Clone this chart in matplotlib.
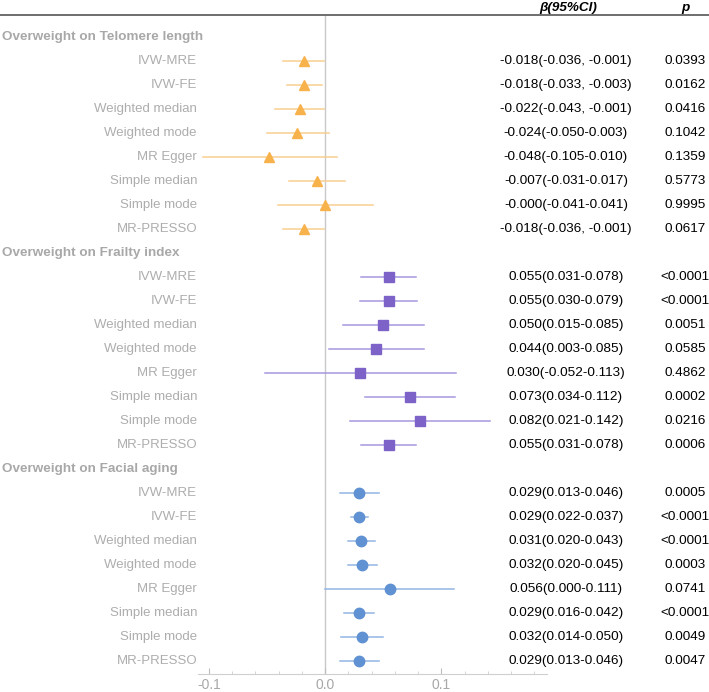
import matplotlib.pyplot as plt
from matplotlib.lines import Line2D

plt.rcParams['font.family'] = ['Liberation Sans', 'DejaVu Sans']

groups = ['Overweight on Telomere length', 'Overweight on Frailty index', 'Overweight on Facial aging']
methods = ['IVW-MRE', 'IVW-FE', 'Weighted median', 'Weighted mode',
           'MR Egger', 'Simple median', 'Simple mode', 'MR-PRESSO']

beta = [
    [-0.018, -0.018, -0.022, -0.024, -0.048, -0.007, -0.000, -0.018],
    [0.055, 0.055, 0.050, 0.044, 0.030, 0.073, 0.082, 0.055],
    [0.029, 0.029, 0.031, 0.032, 0.056, 0.029, 0.032, 0.029],
]
lower = [
    [-0.036, -0.033, -0.043, -0.050, -0.105, -0.031, -0.041, -0.036],
    [0.031, 0.030, 0.015, 0.003, -0.052, 0.034, 0.021, 0.031],
    [0.013, 0.022, 0.020, 0.020, 0.000, 0.016, 0.014, 0.013],
]
upper = [
    [-0.001, -0.003, -0.001, 0.003, 0.010, 0.017, 0.041, -0.001],
    [0.078, 0.079, 0.085, 0.085, 0.113, 0.112, 0.142, 0.078],
    [0.046, 0.037, 0.043, 0.045, 0.111, 0.042, 0.050, 0.046],
]
ci_text = [
    ['-0.018(-0.036, -0.001)', '-0.018(-0.033, -0.003)', '-0.022(-0.043, -0.001)',
     '-0.024(-0.050-0.003)', '-0.048(-0.105-0.010)', '-0.007(-0.031-0.017)',
     '-0.000(-0.041-0.041)', '-0.018(-0.036, -0.001)'],
    ['0.055(0.031-0.078)', '0.055(0.030-0.079)', '0.050(0.015-0.085)',
     '0.044(0.003-0.085)', '0.030(-0.052-0.113)', '0.073(0.034-0.112)',
     '0.082(0.021-0.142)', '0.055(0.031-0.078)'],
    ['0.029(0.013-0.046)', '0.029(0.022-0.037)', '0.031(0.020-0.043)',
     '0.032(0.020-0.045)', '0.056(0.000-0.111)', '0.029(0.016-0.042)',
     '0.032(0.014-0.050)', '0.029(0.013-0.046)'],
]
p_text = [
    ['0.0393', '0.0162', '0.0416', '0.1042', '0.1359', '0.5773', '0.9995', '0.0617'],
    ['<0.0001', '<0.0001', '0.0051', '0.0585', '0.4862', '0.0002', '0.0216', '0.0006'],
    ['0.0005', '<0.0001', '<0.0001', '0.0003', '0.0741', '<0.0001', '0.0049', '0.0047'],
]

markers = ['^', 's', 'o']
mcolors = ['#F8B24C', '#7D62C8', '#5F91D3']
lcolors = ['#F9CF8E', '#A797DE', '#92B5E2']

W, H = 709, 692
fig = plt.figure(figsize=(W / 100, H / 100), dpi=100)

# axes: x from 198px to 547px, y from 16px to 674px
ax = fig.add_axes([198 / W, 1 - 674 / H, (547 - 198) / W, (674 - 16) / H])
row_px0, row_step = 37, 24
ytop = (16 - row_px0) / row_step
ybot = (674 - row_px0) / row_step
ax.set_ylim(ybot, ytop)
ax.set_xlim(-0.1095, 0.191)

def fy(r):
    return 1 - (row_px0 + row_step * r) / H

label_gray = '#ADADAD'
r = 0
for g in range(3):
    fig.text(2 / W, fy(r), groups[g], ha='left', va='center', fontsize=9.7,
             fontweight='bold', color='#A8A8A8')
    r += 1
    for i, m in enumerate(methods):
        ax.plot([lower[g][i], upper[g][i]], [r, r], color=lcolors[g], lw=1.1, zorder=2)
        ax.plot(beta[g][i], r, marker=markers[g], color=mcolors[g], ms=7.5 if g != 1 else 7,
                ls='none', zorder=3)
        fig.text(197 / W, fy(r), m, ha='right', va='center', fontsize=9.5, color=label_gray)
        fig.text(566 / W, fy(r), ci_text[g][i], ha='center', va='center', fontsize=9.7, color='black')
        fig.text(685 / W, fy(r), p_text[g][i], ha='center', va='center', fontsize=9.7, color='black')
        r += 1

ax.axvline(0, color='#C8C8C8', lw=1, zorder=1)

for s in ['top', 'left', 'right']:
    ax.spines[s].set_visible(False)
ax.spines['bottom'].set_color('#CFCFCF')
ax.set_yticks([])
ax.set_xticks([-0.1, 0.0, 0.1])
ax.set_xticklabels(['-0.1', '0.0', '0.1'])
ax.set_xticks([x / 100 for x in range(-10, 20, 2)], minor=True)
ax.tick_params(axis='x', which='major', direction='in', length=4, color='#BDBDBD',
               labelcolor='#A8A8A8', labelsize=10, pad=3)
ax.tick_params(axis='x', which='minor', direction='in', length=2, color='#CFCFCF')

# header
fig.text(568 / W, 1 - 8 / H, 'β(95%CI)', ha='center', va='center', fontsize=9.7,
         fontweight='bold', fontstyle='italic')
fig.text(685 / W, 1 - 8 / H, 'p', ha='center', va='center', fontsize=9.7,
         fontweight='bold', fontstyle='italic')
fig.add_artist(Line2D([0, 1], [1 - 15 / H, 1 - 15 / H], color='#555555', lw=1.2,
                      transform=fig.transFigure))

fig.savefig('out.png', dpi=100)
